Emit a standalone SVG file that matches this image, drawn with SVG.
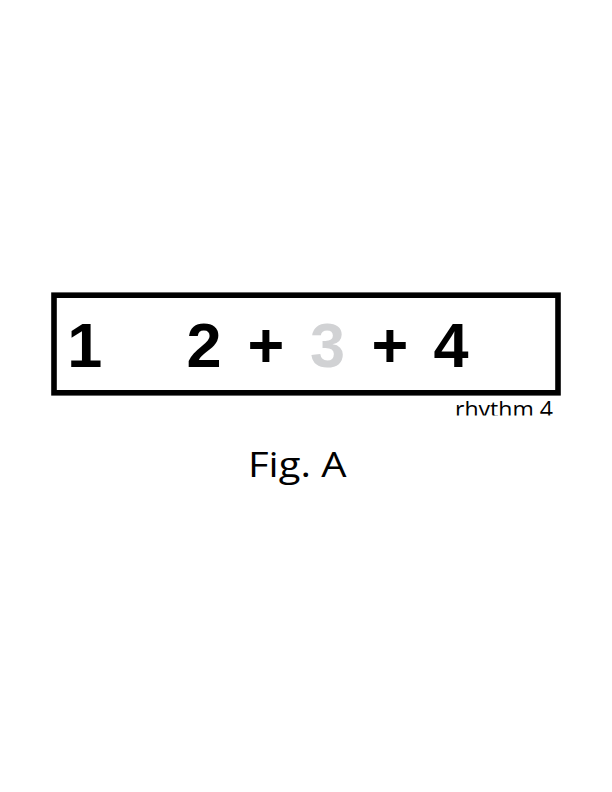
<svg xmlns="http://www.w3.org/2000/svg" width="612" height="792" viewBox="0 0 612 792">
<style>
.big{font-family:"Liberation Sans",Arial,sans-serif;font-weight:bold;font-size:63px;text-anchor:middle;fill:#000}
.grey{fill:#d1d2d4}
.lbl{font-family:"Open Sans","Noto Sans",sans-serif;fill:#000}
</style>
<defs>
<clipPath id="cl"><rect x="0" y="0" width="612" height="415.5"/></clipPath>
</defs>
<rect width="612" height="792" fill="#fff"/>
<g id="box">
<rect x="54" y="295.2" width="504" height="97.6" fill="none" stroke="#000" stroke-width="5.6"/>
<text class="big" x="84.7" y="366.5">1</text>
<text class="big" x="204" y="366.5">2</text>
<text class="big" x="266" y="366.5">+</text>
<text class="big grey" x="327.5" y="366.5">3</text>
<text class="big" x="390" y="366.5">+</text>
<text class="big" x="451" y="366.5">4</text>
</g>
<g id="caption" clip-path="url(#cl)">
<text class="lbl" x="455" y="417" font-size="22" textLength="98" lengthAdjust="spacingAndGlyphs">rhythm 4</text>
</g>
<g id="fig">
<text class="lbl" x="248" y="476.7" font-size="34" textLength="98.5" lengthAdjust="spacingAndGlyphs">Fig. A</text>
</g>
</svg>
